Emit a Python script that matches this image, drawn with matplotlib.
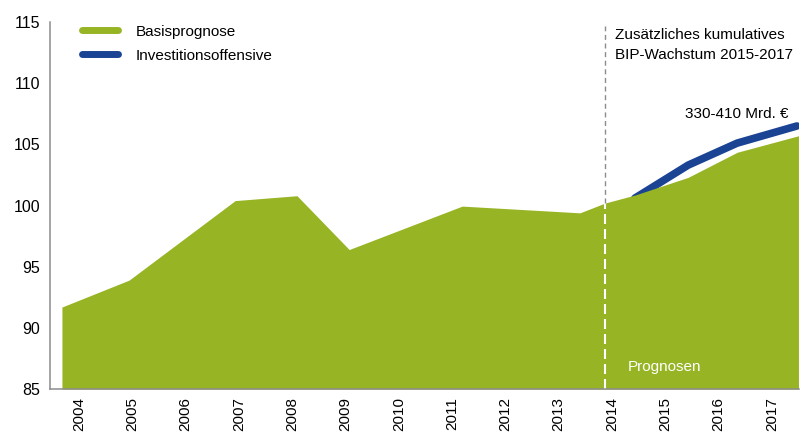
## Import Required Packages
import matplotlib
matplotlib.use('Agg')
import matplotlib.pyplot as plt
from matplotlib.lines import Line2D

plt.rcParams['font.family'] = ['Liberation Sans', 'DejaVu Sans']

## Data (x in fractional years as placed by the designer)
base_x = [2003.68, 2004.94, 2006.93, 2008.09, 2009.07, 2011.19, 2013.40, 2013.87,
          2014.43, 2015.43, 2016.35, 2017.50]
base_y = [91.7, 93.9, 100.4, 100.8, 96.4, 99.95, 99.4, 100.2,
          100.85, 102.3, 104.35, 105.7]
invest_x = [2014.43, 2015.43, 2016.35, 2017.47]
invest_y = [100.6, 103.3, 105.1, 106.5]
years = list(range(2004, 2018))
yticks = [85, 90, 95, 100, 105, 110, 115]
forecast_start = 2013.87

green = '#97B425'
blue = '#1B4393'
grey = '#8C8C8C'

fig = plt.figure(figsize=(8.03, 4.34), dpi=100)
ax = fig.add_axes([50 / 803, 1 - 389 / 434, 749 / 803, 367 / 434])

## Area and line (line sits under the area so it grows out of its edge)
ax.plot(invest_x, invest_y, color=blue, linewidth=5.5, solid_capstyle='round',
        solid_joinstyle='round', zorder=2)
ax.fill_between(base_x, base_y, 85, color=green, linewidth=0, zorder=3)

## Forecast divider: white inside the area, grey above it
y_at_split = base_y[base_x.index(forecast_start)]
ax.plot([forecast_start, forecast_start], [85, y_at_split], color='white',
        linestyle=(0, (4.8, 2.4)), linewidth=1.5, zorder=4)
ax.plot([forecast_start, forecast_start], [y_at_split, 114.7], color=grey,
        linestyle=(0, (3.6, 2.6)), linewidth=1.0, zorder=4)

## Axes
ax.set_xlim(2003.456, 2017.51)
ax.set_ylim(85, 115)
ax.set_yticks(yticks)
ax.set_xticks(years)
ax.set_xticklabels([str(y) for y in years], rotation=90)
ax.tick_params(axis='both', length=0, colors='black')
ax.tick_params(axis='x', pad=6, labelsize=11)
ax.tick_params(axis='y', pad=7, labelsize=11.5)
for s in ['top', 'right']:
    ax.spines[s].set_visible(False)
for s in ['left', 'bottom']:
    ax.spines[s].set_color(grey)
    ax.spines[s].set_linewidth(1.1)
    ax.spines[s].set_zorder(5)

## Legend
handles = [Line2D([0], [0], color=green, linewidth=5, solid_capstyle='round'),
           Line2D([0], [0], color=blue, linewidth=5, solid_capstyle='round')]
ax.legend(handles, ['Basisprognose', 'Investitionsoffensive'], loc='upper left',
          bbox_to_anchor=(0.025, 1.03), frameon=False, fontsize=11,
          handlelength=2.3, handletextpad=1.2, labelspacing=0.65)

## Annotations
ax.text(2014.06, 113.94, 'Zusätzliches kumulatives', fontsize=11, va='center', ha='left')
ax.text(2014.06, 112.3, 'BIP-Wachstum 2015-2017', fontsize=11, va='center', ha='left')
ax.text(2017.32, 107.5, '330-410 Mrd. €', fontsize=11, ha='right', va='center')
ax.text(2014.3, 86.8, 'Prognosen', fontsize=11, color='white', ha='left', va='center')

fig.savefig('out.png', dpi=100)
